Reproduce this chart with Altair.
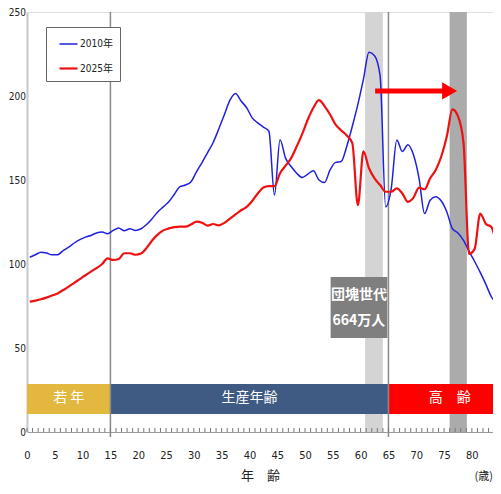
import altair as alt
import pandas as pd

# ---- data (population, 10 thousand persons, by single year of age) ----
ages = list(range(0, 86))
pop_2010 = [104, 105.5, 107, 106.5, 105.5, 105.5, 108, 110, 112.5, 114.5,
            116, 117, 118.5, 119, 118, 120, 121.5, 119.8, 121, 120,
            121, 123.5, 127, 131, 134, 137, 141.5, 146, 147, 149,
            155, 160.5, 166.5, 172.5, 180.5, 189, 197.5, 201.5, 197, 193,
            187, 184, 181.5, 179, 141, 174, 163, 158, 154, 151.5,
            153.5, 155.5, 150, 148.5, 156, 160.5, 161, 170, 182, 195,
            210, 226, 224, 212, 134, 145, 173.8, 167, 171, 165,
            151, 130, 138, 140, 137.5, 131, 121, 118.5, 114, 107.5,
            101.5, 95, 88, 80.5, 76, 67]
pop_2025 = [77.6, 78.2, 79, 80, 81.2, 82.5, 84.5, 86.5, 88.8, 91,
            93.3, 95.5, 97.5, 100, 103.4, 102.4, 103, 106.4, 106.4, 105.5,
            106.2, 109.5, 114, 117.5, 120, 121.2, 122, 122.2, 122.2, 123.5,
            125.2, 124.5, 122.8, 123.8, 123, 124.5, 127, 129.5, 132, 134,
            137.5, 142, 145.5, 146.4, 146.4, 154, 158.5, 163, 170, 177.5,
            186, 193, 197.5, 194, 189, 183, 179.5, 176.5, 172, 135,
            167, 157, 151, 147, 143, 143, 145, 142, 137, 139.5,
            145.5, 144.5, 151, 156, 164, 176, 192, 188, 172, 106,
            109, 130, 124, 122, 111, 97]
series_names = ["2010年", "2025年"]
series_colors = ["#2020E0", "#EE1111"]

x_ticks = list(range(0, 85, 5))
y_ticks = [0, 50, 100, 150, 200, 250]
minor_ticks = list(range(0, 85))
XMAX = 83.8

# age-group bands
band_start = [0, 15, 65]
band_end = [15, 65, XMAX]
band_labels = ["若 年", "生産年齢", "高　齢"]
band_label_x = [7.5, 40, 76.0]
band_colors = ["#E3B83F", "#3F5B83", "#FF0000"]
band_low, band_high, band_label_y = 10.7, 28.6, 20

# baby-boom generation highlight columns
gen_start = [60.8, 76.0]
gen_end = [64.0, 79.1]
gen_colors = ["#D4D4D4", "#ABABAB"]

dividers = [15, 65]

# annotation
note_lines = ["団塊世代", "664万人"]
note_x = 59.7
note_y = [81.5, 66]
note_box = dict(x0=54.6, x1=64.8, y0=56, y1=92.3)
arrow_x0, arrow_x1, arrow_head_x, arrow_y = 62.6, 75.0, 76.0, 203
unit_label, unit_x, unit_y = "(歳)", XMAX, -27

NARROW = "DejaVu Sans Condensed"
CJK = "Noto Sans CJK JP"

# ---- frames ----
long = pd.DataFrame({
    "age": ages * 2,
    "pop": pop_2010 + pop_2025,
    "series": [series_names[0]] * len(ages) + [series_names[1]] * len(ages),
})
bands = pd.DataFrame({"x0": band_start, "x1": band_end, "label": band_labels,
                      "lx": band_label_x, "color": band_colors})
gens = pd.DataFrame({"x0": gen_start, "x1": gen_end, "color": gen_colors})
divs = pd.DataFrame({"x": dividers})
ticks_df = pd.DataFrame({"x": minor_ticks})
notes = pd.DataFrame({"t": note_lines, "x": [note_x] * 2, "y": note_y})
box = pd.DataFrame([note_box])
arrow = pd.DataFrame({"x0": [arrow_x0], "x1": [arrow_x1], "hx": [arrow_head_x], "y": [arrow_y]})
unit = pd.DataFrame({"t": [unit_label], "x": [unit_x], "y": [unit_y]})

xs = alt.Scale(domain=[0, XMAX], nice=False, zero=False)
ys = alt.Scale(domain=[0, 250], nice=False)

x_axis = alt.Axis(values=x_ticks, ticks=False, labelPadding=17, labelFont=NARROW,
                  labelFontSize=11, labelColor="#222", domainColor="#999", domainWidth=1,
                  grid=False, title="年　齢", titleFont=CJK, titleFontSize=13,
                  titleFontWeight="normal", titleColor="#222", titleY=50,
                  titleBaseline="bottom", labelFlush=False)
y_axis = alt.Axis(values=y_ticks, ticks=False, labelPadding=1.5, labelFont=NARROW,
                  labelFontSize=10, labelColor="#222", domainColor="#C8C8C8",
                  domainWidth=2, title=None,
                  gridColor={"condition": {"test": "datum.value === 250", "value": "#777"},
                             "value": "#A8A8A8"},
                  gridDash={"condition": {"test": "datum.value === 250", "value": []},
                            "value": [2, 2]},
                  gridWidth={"condition": {"test": "datum.value === 250", "value": 1.5},
                             "value": 1})

base_x = lambda f: alt.X(f, type="quantitative", scale=xs, axis=x_axis)

gen_layer = alt.Chart(gens).mark_rect().encode(
    x=base_x("x0"), x2="x1",
    y=alt.Y(datum=0, type="quantitative", scale=ys, axis=y_axis), y2=alt.datum(250),
    color=alt.Color("color:N", scale=None),
)

band_layer = alt.Chart(bands).mark_rect().encode(
    x=base_x("x0"), x2="x1",
    y=alt.datum(band_low), y2=alt.datum(band_high),
    color=alt.Color("color:N", scale=None),
)
band_text = alt.Chart(bands).mark_text(font=CJK, fontSize=14, color="white",
                                       baseline="middle").encode(
    x=base_x("lx"), y=alt.datum(band_label_y), text="label:N")

div_layer = alt.Chart(divs).mark_rule(color="#8A8A8A", strokeWidth=1.5).encode(
    x=base_x("x"), y=alt.datum(-3), y2=alt.datum(250))

tick_layer = alt.Chart(ticks_df).mark_rule(color="#777", strokeWidth=1).encode(
    x=base_x("x"), y=alt.datum(0), y2=alt.datum(2.4))

lines = alt.Chart(long).transform_calculate(pos="datum.age + 0.5").mark_line(
    interpolate="monotone", clip=True).encode(
    x=base_x("pos"),
    y=alt.Y("pop:Q", scale=ys, axis=y_axis),
    color=alt.Color("series:N",
                    scale=alt.Scale(domain=series_names, range=series_colors),
                    legend=alt.Legend(orient="none", legendX=19, legendY=15, title=None,
                                      symbolType="stroke", symbolStrokeWidth=3,
                                      symbolSize=324, symbolOffset=5, padding=7,
                                      rowPadding=9, labelOffset=1,
                                      labelFont="DejaVu Sans Condensed, Noto Sans CJK JP, sans-serif",
                                      labelFontSize=10, labelColor="#222",
                                      strokeColor="#666", fillColor="white")),
    strokeWidth=alt.StrokeWidth("series:N",
                                scale=alt.Scale(domain=series_names, range=[1.5, 2.2]),
                                legend=None),
)

box_layer = alt.Chart(box).mark_rect(color="#7F7F7F").encode(
    x=base_x("x0"), x2="x1", y=alt.Y("y0:Q", scale=ys, axis=y_axis), y2="y1")
note_layer = alt.Chart(notes).mark_text(font=CJK, fontSize=14, fontWeight="bold",
                                        color="white", baseline="middle").encode(
    x=base_x("x"), y=alt.Y("y:Q", scale=ys, axis=y_axis), text="t:N")

arrow_line = alt.Chart(arrow).mark_rule(color="#FF0000", strokeWidth=5).encode(
    x=base_x("x0"), x2="x1", y=alt.Y("y:Q", scale=ys, axis=y_axis))
arrow_head = alt.Chart(arrow).mark_point(shape="triangle-right", filled=True,
                                         color="#FF0000", size=300, opacity=1).encode(
    x=base_x("hx"), y=alt.Y("y:Q", scale=ys, axis=y_axis))

unit_layer = alt.Chart(unit).mark_text(font=CJK, fontSize=11, color="#222",
                                       align="right", baseline="middle").encode(
    x=base_x("x"), y=alt.Y("y:Q", scale=ys, axis=y_axis), text="t:N")

chart = alt.layer(gen_layer, band_layer, band_text, div_layer, tick_layer, lines,
                  box_layer, note_layer, arrow_line, arrow_head, unit_layer).properties(
    width=466, height=420,
    autosize=alt.AutoSizeParams(type="none"),
    padding={"left": 19, "top": 4, "right": 0, "bottom": 50},
).configure_view(stroke=None).configure(background="white")

chart.save("out.html", embed_options={"renderer": "svg", "actions": False})
